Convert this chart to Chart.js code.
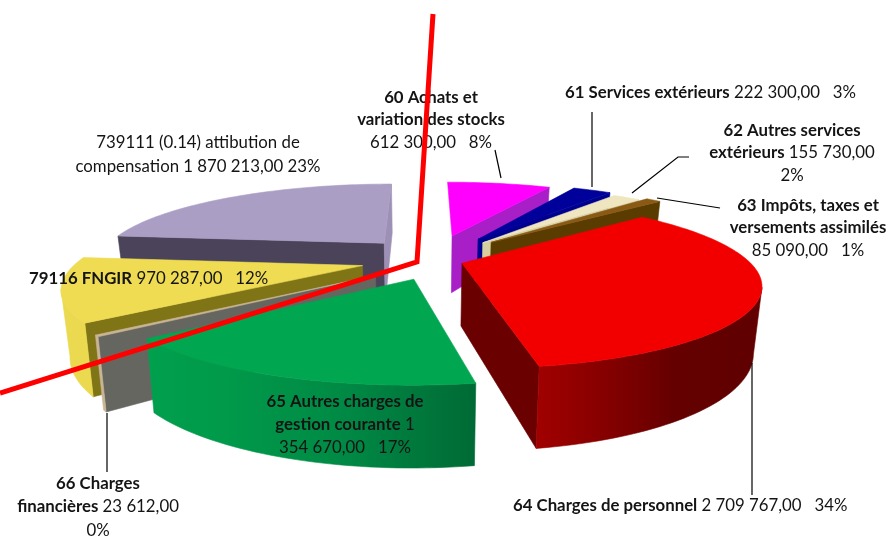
<!DOCTYPE html>
<html><head><meta charset="utf-8">
<style>html,body{margin:0;padding:0;background:#fff}canvas{display:block}</style>
<script src="https://cdn.jsdelivr.net/npm/chart.js@4"></script>
</head><body>
<canvas id="c" width="893" height="538"></canvas>
<script>
const categories = ["60 Achats et variation des stocks","61 Services extérieurs","62 Autres services extérieurs","63 Impôts, taxes et versements assimilés","64 Charges de personnel","65 Autres charges de gestion courante","66 Charges financières","79116 FNGIR","739111 (0.14) attibution de compensation"];
const values = [612300,222300,155730,85090,2709767,1354670,23612,970287,1870213];
const explode = [115,91,88,87,45,20,55,60,60];
const nudgeX = [7,12,8,11,-1,1,0,1,3];
const nudgeY = [2,-3,-2,-4,-3,12,4,-1,-7];
const topColors = ["#ff00ff","#00009a","#efe6c0","#8a5a14","#f20000","#00a650","#c9b596","#efdc52","#ab9ec5"];
const cutStartColors = [null,"#00009a","#d8cfa0","#5a3c00",null,null,"#666661","#7f7416","#4a4359"];
const cutEndColors = ["#a81fc8","#000090","#d8cfa0","#5a3c00","#6a0000","#00a04e",null,null,"#9d90b6"];
const wallStops = [["#a81fc8"],["#000090"],["#d8cfa0"],["#5a3c00"],["#800000","#800000","#700000","#600000","#640000","#a00000"],["#006a35","#008a45","#009a4a","#00a04e"],["#c9b596"],["#ebd94f"],["#4a4359"]];
const labelLines = [
 {x:431,y:103,a:"c",p:[["60 Achats et",1]]},
 {x:431,y:125,a:"c",p:[["variation des stocks",1]]},
 {x:431,y:148,a:"c",p:[["612 300,00   8%",0]]},
 {x:565,y:98,a:"l",p:[["61 Services extérieurs",1],[" 222 300,00   3%",0]]},
 {x:792,y:136,a:"c",p:[["62 Autres services",1]]},
 {x:792,y:158,a:"c",p:[["extérieurs",1],[" 155 730,00",0]]},
 {x:792,y:181,a:"c",p:[["2%",0]]},
 {x:808,y:211,a:"c",p:[["63 Impôts, taxes et",1]]},
 {x:808,y:233,a:"c",p:[["versements assimilés",1]]},
 {x:808,y:256,a:"c",p:[["85 090,00   1%",0]]},
 {x:513,y:511,a:"l",p:[["64 Charges de personnel",1],[" 2 709 767,00   34%",0]]},
 {x:345,y:407,a:"c",p:[["65 Autres charges de",1]]},
 {x:345,y:430,a:"c",p:[["gestion courante",1],[" 1",0]]},
 {x:345,y:453,a:"c",p:[["354 670,00   17%",0]]},
 {x:98,y:489,a:"c",p:[["66 Charges",1]]},
 {x:98,y:512,a:"c",p:[["financières",1],[" 23 612,00",0]]},
 {x:98,y:536,a:"c",p:[["0%",0]]},
 {x:29,y:284,a:"l",p:[["79116 FNGIR",1],[" 970 287,00   12%",0]]},
 {x:198,y:148,a:"c",p:[["739111 (0.14) attibution de",0]]},
 {x:198,y:172,a:"c",p:[["compensation 1 870 213,00 23%",0]]}
];
const leaderLines = [[[495,150],[501,178]],[[592,112],[592,187]],[[689,157],[678,157],[632,193]],[[720,208],[657,198]],[[752,363],[752,495]],[[107,413],[107,472]]];
const redLine = [[433,14],[417,262],[0,393]];

const RADIUS=285, PERSP=0.236, TILT=0.274, DEPTH=62, SHRINK=0.025, FONT_SIZE=16.8;
function hex(c){return [1,3,5].map(i=>parseInt(c.substr(i,2),16));}
function mix(stops,t){
  if(stops.length===1) return stops[0];
  const f=Math.max(0,Math.min(1,t))*(stops.length-1), i=Math.min(stops.length-2,Math.floor(f)), g=f-i;
  const a=hex(stops[i]), b=hex(stops[i+1]);
  return "rgb("+a.map((v,k)=>Math.round(v+(b[k]-v)*g)).join(",")+")";
}
function poly(ctx,pts,col){
  ctx.beginPath();pts.forEach((p,i)=>i?ctx.lineTo(p[0],p[1]):ctx.moveTo(p[0],p[1]));ctx.closePath();
  ctx.fillStyle=col;ctx.strokeStyle=col;ctx.lineWidth=0.6;ctx.fill();ctx.stroke();
}
const pie3d={
  id:"pie3d",
  beforeDatasetDraw(){return false;},
  afterDraw(chart){
    const ctx=chart.ctx, arcs=chart.getDatasetMeta(0).data;
    const order=arcs.map((a,i)=>i).sort((i,j)=>{
      const mid=k=>(arcs[k].startAngle+arcs[k].endAngle)/2;
      return Math.sin(mid(i))-Math.sin(mid(j));
    });
    ctx.save();
    order.forEach(i=>{
      const el=arcs[i], a0=el.startAngle, a1=el.endAngle, mid=(a0+a1)/2, e=el.options.offset;
      const ox=Math.cos(mid)*e, oy=Math.sin(mid)*e;
      const P=(u,v,z)=>{const s=1/(1-PERSP*v/RADIUS);
        return [el.x+nudgeX[i]+u*s*(1-SHRINK*z), el.y+nudgeY[i]+v*TILT*s+z*DEPTH*s];};
      const steps=Math.max(2,Math.ceil((a1-a0)/(Math.PI/120)));
      const rim=[];
      for(let n=0;n<=steps;n++){const a=a0+(a1-a0)*n/steps;rim.push([ox+Math.cos(a)*RADIUS,oy+Math.sin(a)*RADIUS]);}
      const at=(p,z)=>P(p[0],p[1],z), apex=[ox,oy];
      const wall=(A,B,col)=>{poly(ctx,[at(A,0),at(B,0),at(B,1),at(A,1)],col);};
      const first=rim[0], last=rim[rim.length-1];
      if(cutStartColors[i]&&at(first,0)[0]<at(apex,0)[0]) wall(apex,first,cutStartColors[i]);
      if(cutEndColors[i]&&at(apex,0)[0]<at(last,0)[0]) wall(last,apex,cutEndColors[i]);
      const vis=[];
      for(let n=0;n<steps;n++){ if(at(rim[n+1],0)[0]<at(rim[n],0)[0]) vis.push(n); }
      if(vis.length){
        const run=[]; for(let n=vis[0];n<=vis[vis.length-1]+1;n++) run.push(n);
        const x0=at(rim[run[0]],0)[0], x1=at(rim[run[run.length-1]],0)[0];
        const g=ctx.createLinearGradient(x0,0,x1,0);
        run.forEach(n=>g.addColorStop(Math.min(1,Math.max(0,(x0-at(rim[n],0)[0])/(x0-x1))),mix(wallStops[i],n/steps)));
        const pts=run.map(n=>at(rim[n],0)).concat(run.slice().reverse().map(n=>at(rim[n],1)));
        poly(ctx,pts,g);
      }
      poly(ctx,[at(apex,0)].concat(rim.map(p=>at(p,0))),topColors[i]);
    });
    ctx.strokeStyle="#000";ctx.lineWidth=1.2;
    leaderLines.forEach(l=>{ctx.beginPath();l.forEach((p,i)=>i?ctx.lineTo(p[0],p[1]):ctx.moveTo(p[0],p[1]));ctx.stroke();});
    ctx.fillStyle="#141414";ctx.textBaseline="alphabetic";ctx.textAlign="left";
    const fontOf=b=>(b?"bold ":"")+FONT_SIZE+"px Lato";
    labelLines.forEach(l=>{
      let w=0;l.p.forEach(r=>{ctx.font=fontOf(r[1]);w+=ctx.measureText(r[0]).width;});
      let x=l.a==="c"?l.x-w/2:l.x;
      l.p.forEach(r=>{ctx.font=fontOf(r[1]);ctx.fillText(r[0],x,l.y);x+=ctx.measureText(r[0]).width;});
    });
    ctx.strokeStyle="#ff0000";ctx.lineWidth=5;ctx.lineJoin="miter";
    ctx.beginPath();redLine.forEach((p,i)=>i?ctx.lineTo(p[0],p[1]):ctx.moveTo(p[0],p[1]));ctx.stroke();
    ctx.restore();
  }
};
new Chart(document.getElementById("c"),{
  type:"pie",
  data:{labels:categories,datasets:[{data:values,backgroundColor:topColors,offset:explode,borderWidth:0}]},
  options:{responsive:false,animation:false,rotation:0,
    layout:{padding:{right:53,bottom:14}},
    plugins:{legend:{display:false},tooltip:{enabled:false},title:{display:false}}},
  plugins:[pie3d]
});
</script>
</body></html>
